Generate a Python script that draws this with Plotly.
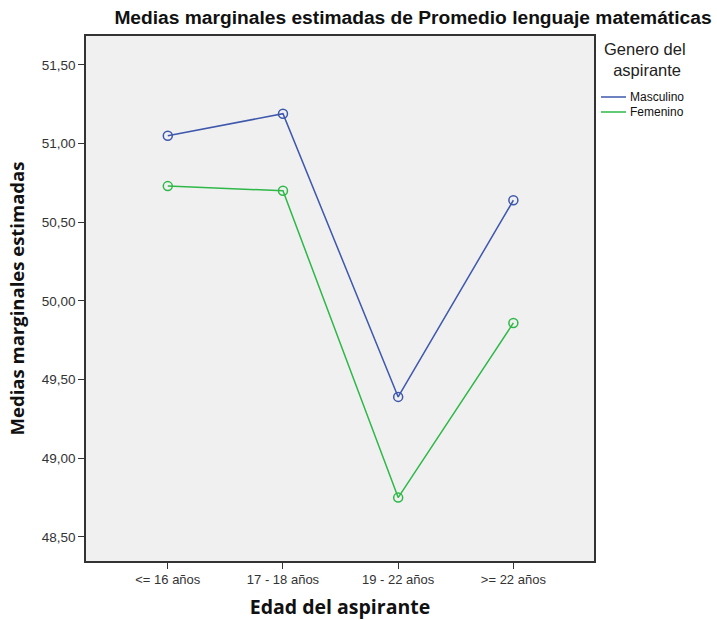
import plotly.graph_objects as go

categories = ["<= 16 años", "17 - 18 años", "19 - 22 años", ">= 22 años"]
masculino = [51.05, 51.19, 49.39, 50.64]
femenino = [50.73, 50.70, 48.75, 49.86]
series_names = ["Masculino", "Femenino"]
legend_title = "Genero del<br> aspirante"
colors = ["#3E58AC", "#2EB848"]
y_ticks = [48.5, 49.0, 49.5, 50.0, 50.5, 51.0, 51.5]
y_tick_labels = ["48,50", "49,00", "49,50", "50,00", "50,50", "51,00", "51,50"]

W, H = 717, 620
L, R, T, B = 86, 123, 36, 59
pw, ph = W - L - R, H - T - B

def px_x(x):
    return (x - L) / pw

def px_y(y):
    return (H - B - y) / ph

fig = go.Figure()
x_idx = list(range(len(categories)))
for name, vals, col in zip(series_names, [masculino, femenino], colors):
    fig.add_trace(go.Scatter(
        x=x_idx, y=vals, mode="lines+markers", name=name, showlegend=False,
        line=dict(color=col, width=1.5),
        marker=dict(symbol="circle-open", size=9, color=col, line=dict(width=1.5)),
    ))

# manual legend (SPSS style)
annotations = [dict(
    text=legend_title, x=px_x(645), y=px_y(59), xref="paper", yref="paper",
    xanchor="center", yanchor="middle", showarrow=False, align="center",
    font=dict(family="Liberation Sans, Arial", size=16.5, color="#222"),
)]
shapes = []
for i, (name, col) in enumerate(zip(series_names, colors)):
    yy = 97 + i * 15
    shapes.append(dict(type="line", xref="paper", yref="paper",
                       x0=px_x(601), x1=px_x(626), y0=px_y(yy), y1=px_y(yy),
                       line=dict(color=col, width=1.5)))
    annotations.append(dict(
        text=name, x=px_x(628), y=px_y(yy), xref="paper", yref="paper",
        xanchor="left", yanchor="middle", showarrow=False,
        font=dict(family="Liberation Sans, Arial", size=12, color="#111"),
    ))

fig.update_layout(
    width=W, height=H,
    margin=dict(l=L, r=R, t=T, b=B),
    paper_bgcolor="white", plot_bgcolor="#F0F0F0",
    showlegend=False,
    title=dict(text="<b>Medias marginales estimadas de Promedio lenguaje matemáticas</b>",
               x=0.576, xanchor="center", y=1 - 17 / H, yanchor="middle",
               font=dict(family="Liberation Sans, Arial", size=19.2, color="#111")),
    font=dict(family="Liberation Sans, Arial", color="#333"),
    xaxis=dict(
        tickmode="array", tickvals=x_idx, ticktext=categories,
        range=[-0.71, 3.70], showgrid=False, zeroline=False, automargin=False,
        showline=True, linecolor="#333", linewidth=1.5, mirror=True,
        ticks="outside", ticklen=6, tickcolor="#333",
        tickfont=dict(size=13, color="#333"),
        title=dict(text="<b>Edad del aspirante</b>", standoff=14,
                   font=dict(family="Open Sans", size=19.5, color="#111")),
    ),
    yaxis=dict(
        tickmode="array", tickvals=y_ticks, ticktext=y_tick_labels,
        range=[48.347, 51.684], showgrid=False, zeroline=False, automargin=False,
        showline=True, linecolor="#333", linewidth=1.5, mirror=True,
        ticks="outside", ticklen=6, tickcolor="#333",
        tickfont=dict(size=13.5, color="#333"),
        title=dict(text="<b>Medias marginales estimadas</b>", standoff=12,
                   font=dict(family="Open Sans", size=18.5, color="#111")),
    ),
    annotations=annotations,
    shapes=shapes,
)

fig.write_html("out.html", config={"displayModeBar": False},
               post_script="document.body.style.margin='0';")
